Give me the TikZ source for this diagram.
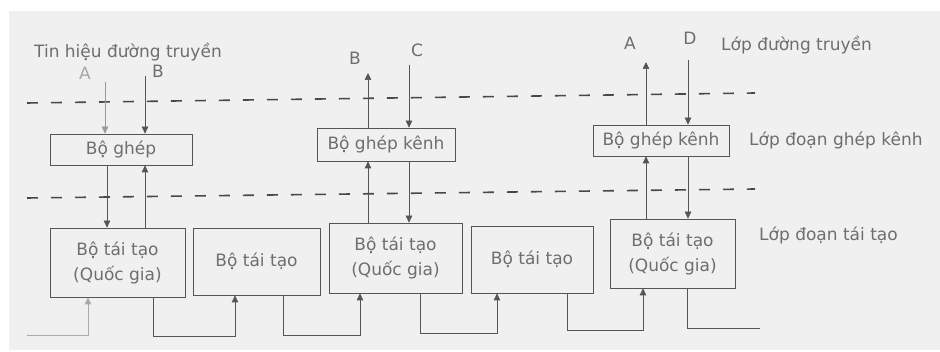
\documentclass[tikz,border=0pt]{standalone}
\usepackage{fontspec}
\setmainfont{DejaVu Sans}
\usetikzlibrary{arrows.meta}
\definecolor{paper}{HTML}{F0F0F0}
\definecolor{ink}{HTML}{555555}
\definecolor{txt}{HTML}{6E6E6E}

\begin{document}
\begin{tikzpicture}[x=1pt,y=-1pt,
  every node/.style={text=txt,inner sep=1pt,font=\fontsize{17}{25}\selectfont},
  box/.style={draw=ink,line width=0.7pt,inner sep=0pt,align=center},
  sig/.style={draw=ink,line width=0.7pt},
  arr/.style={sig,-{Triangle[length=7pt,width=6.5pt]}},
  layerline/.style={draw=ink!85!black,line width=1.6pt,dash pattern=on 11pt off 13pt}]

  \useasboundingbox (0,0) rectangle (940,352);
  \fill[paper] (9,11) rectangle (940,350);

  % layer borders
  \coordinate (l1a) at (27,103);
  \coordinate (l1b) at (755,93);
  \coordinate (l2a) at (27,198);
  \coordinate (l2b) at (755,189);
  \draw[layerline] (l1a) -- (l1b);
  \draw[layerline] (l2a) -- (l2b);

  % multiplexers
  \node[box,minimum width=142pt,minimum height=31pt] (mux1) at (121,149.5) {Bộ ghép};
  \node[box,minimum width=138pt,minimum height=33pt] (mux2) at (386,144.5) {Bộ ghép kênh};
  \node[box,minimum width=136pt,minimum height=31pt] (mux3) at (661,140.5) {Bộ ghép kênh};

  % regenerators
  \node[box,minimum width=135pt,minimum height=69pt] (reg1) at (117.5,262.5) {Bộ tái tạo\\(Quốc gia)};
  \node[box,minimum width=127pt,minimum height=67pt] (reg2) at (256.5,261.5) {Bộ tái tạo};
  \node[box,minimum width=133pt,minimum height=70pt] (reg3) at (395.5,258) {Bộ tái tạo\\(Quốc gia)};
  \node[box,minimum width=122pt,minimum height=67pt] (reg4) at (532,259.5) {Bộ tái tạo};
  \node[box,minimum width=125pt,minimum height=69pt] (reg5) at (672.5,253.5) {Bộ tái tạo\\(Quốc gia)};

  % labels
  \node[anchor=west] (tin) at (33,52) {Tin hiệu đường truyền};
  \node[text=txt!60] (tA1) at (85,73) {A};
  \node (tB1) at (158,71) {B};
  \node (tB2) at (355,58) {B};
  \node (tC2) at (417,50) {C};
  \node (tA3) at (630,43) {A};
  \node (tD3) at (690,38) {D};
  \node[anchor=west] (lay1) at (720,45) {Lớp đường truyền};
  \node[anchor=west] (lay2) at (748,140) {Lớp đoạn ghép kênh};
  \node[anchor=west] (lay3) at (758,235) {Lớp đoạn tái tạo};

  % tributary ends
  \coordinate (a1) at (105,82);
  \coordinate (b1) at (145,76);
  \coordinate (d1) at (107,0);
  \coordinate (b2) at (368,73);
  \coordinate (c2) at (409,65);
  \coordinate (a3) at (646,62);
  \coordinate (d3) at (688,60);

  \draw[arr,draw=ink!60] (a1) -- (a1 |- mux1.north);
  \draw[arr] (b1) -- (b1 |- mux1.north);
  \draw[arr] (d1 |- mux1.south) -- (d1 |- reg1.north);
  \draw[arr] (b1 |- reg1.north) -- (b1 |- mux1.south);

  \draw[arr] (b2 |- mux2.north) -- (b2);
  \draw[arr] (c2) -- (c2 |- mux2.north);
  \draw[arr] (b2 |- reg3.north) -- (b2 |- mux2.south);
  \draw[arr] (c2 |- mux2.south) -- (c2 |- reg3.north);

  \draw[arr] (a3 |- mux3.north) -- (a3);
  \draw[arr] (d3) -- (d3 |- mux3.north);
  \draw[arr] (a3 |- reg5.north) -- (a3 |- mux3.south);
  \draw[arr] (d3 |- mux3.south) -- (d3 |- reg5.north);

  % line between regenerators
  \coordinate (in) at (27,335);
  \coordinate (out) at (760,328);
  \draw[arr,draw=ink!50] (in) -| (88,0 |- reg1.south);
  \foreach \s/\t/\xo/\xi/\yb in {reg1/reg2/153/235/336, reg2/reg3/283/360/335,
                                 reg3/reg4/420/497/333, reg4/reg5/567/643/330}
     \draw[arr] (\xo,0 |- \s.south) -- (\xo,\yb) -| (\xi,0 |- \t.south);
  \draw[sig] (687,0 |- reg5.south) |- (out);

\end{tikzpicture}
\end{document}
